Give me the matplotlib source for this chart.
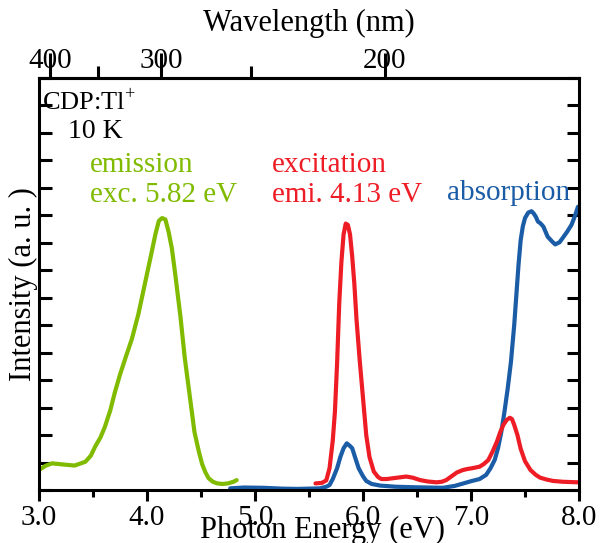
import numpy as np
import matplotlib
matplotlib.use("Agg")
import matplotlib.pyplot as plt

plt.rcParams['font.family'] = ['Liberation Serif', 'DejaVu Serif']
plt.rcParams['mathtext.fontset'] = 'custom'
plt.rcParams['mathtext.rm'] = 'Liberation Serif'

# --- data (photon energy in eV, intensity in a.u.) ---
em_x = [3.00, 3.06, 3.12, 3.22, 3.33, 3.43, 3.48, 3.52, 3.57, 3.61, 3.66, 3.70,
        3.75, 3.80, 3.86, 3.92, 3.98, 4.04, 4.08, 4.11, 4.14, 4.17, 4.20, 4.23,
        4.26, 4.31, 4.35, 4.40, 4.44, 4.48, 4.51, 4.54, 4.57, 4.61, 4.65, 4.70,
        4.75, 4.80, 4.83]
em_y = [0.73, 0.88, 0.97, 0.93, 0.89, 1.03, 1.25, 1.58, 1.92, 2.30, 2.90, 3.52,
        4.20, 4.80, 5.50, 6.40, 7.50, 8.60, 9.35, 9.80, 9.90, 9.85, 9.40, 8.80,
        7.90, 6.30, 4.80, 3.30, 2.10, 1.40, 0.95, 0.65, 0.43, 0.30, 0.24, 0.22,
        0.24, 0.30, 0.36]

exc_x = [5.56, 5.62, 5.66, 5.69, 5.72, 5.74, 5.76, 5.78, 5.80, 5.82, 5.84, 5.86,
         5.88, 5.90, 5.92, 5.94, 5.97, 5.99, 6.01, 6.03, 6.06, 6.10, 6.14, 6.17,
         6.22, 6.28, 6.34, 6.40, 6.46, 6.53, 6.60, 6.68, 6.73, 6.77, 6.82, 6.87,
         6.92, 6.96, 7.02, 7.08, 7.12, 7.16, 7.20, 7.24, 7.27, 7.30, 7.33, 7.36,
         7.38, 7.40, 7.43, 7.46, 7.50, 7.55, 7.60, 7.64, 7.70, 7.76, 7.85, 7.92,
         7.99]
exc_y = [0.24, 0.26, 0.35, 0.79, 1.80, 2.85, 4.60, 6.80, 8.30, 9.30, 9.70, 9.65,
         9.30, 8.50, 7.50, 6.20, 4.70, 3.80, 2.90, 2.00, 1.20, 0.67, 0.47, 0.40,
         0.40, 0.43, 0.46, 0.49, 0.45, 0.36, 0.31, 0.28, 0.30, 0.36, 0.50, 0.64,
         0.72, 0.76, 0.80, 0.85, 0.95, 1.09, 1.40, 1.76, 2.10, 2.37, 2.55, 2.63,
         2.58, 2.37, 2.00, 1.50, 1.05, 0.73, 0.55, 0.45, 0.38, 0.33, 0.30, 0.29,
         0.28]

abs_x = [4.77, 4.90, 5.08, 5.25, 5.39, 5.50, 5.60, 5.66, 5.69, 5.72, 5.76, 5.79,
         5.82, 5.85, 5.88, 5.90, 5.93, 5.96, 6.00, 6.03, 6.08, 6.16, 6.30, 6.47,
         6.60, 6.74, 6.85, 6.93, 7.00, 7.08, 7.14, 7.18, 7.22, 7.25, 7.28, 7.31,
         7.34, 7.37, 7.40, 7.42, 7.44, 7.46, 7.48, 7.50, 7.53, 7.56, 7.58, 7.60,
         7.62, 7.64, 7.67, 7.71, 7.75, 7.78, 7.82, 7.85, 7.89, 7.93, 7.96, 7.99]
abs_y = [0.06, 0.09, 0.08, 0.05, 0.04, 0.05, 0.06, 0.12, 0.18, 0.40, 0.79, 1.20,
         1.52, 1.70, 1.60, 1.52, 1.15, 0.79, 0.50, 0.33, 0.22, 0.16, 0.12, 0.10,
         0.09, 0.08, 0.15, 0.24, 0.32, 0.40, 0.55, 0.79, 1.10, 1.52, 2.10, 2.85,
         3.70, 4.67, 6.00, 7.10, 8.20, 9.10, 9.60, 9.90, 10.10, 10.15, 10.07, 9.95,
         9.77, 9.72, 9.59, 9.22, 9.05, 8.94, 9.02, 9.18, 9.40, 9.65, 9.95, 10.31]

energy_ticks = [3.0, 4.0, 5.0, 6.0, 7.0, 8.0]
wl_major = [400, 300, 200]
wl_minor = [350, 250]

green = '#80bb00'
red = '#ee1c25'
blue = '#1b5ca6'

fig = plt.figure(figsize=(6.0, 5.43), dpi=100)
ax = fig.add_axes([0.065, 0.0976, 0.9, 0.7588])

lw = 3.0
ax.plot(em_x, em_y, color=green, lw=lw, solid_capstyle='round', solid_joinstyle='round')
ax.plot(abs_x, abs_y, color=blue, lw=lw, solid_capstyle='round', solid_joinstyle='round')
ax.plot(exc_x, exc_y, color=red, lw=lw, solid_capstyle='round', solid_joinstyle='round')

ax.set_xlim(3.0, 8.0)
ax.set_ylim(0, 15)
ax.set_xticks(energy_ticks)
ax.set_xticklabels([f'{v:.1f}' for v in energy_ticks])
ax.set_xticks(np.arange(3.5, 8.0, 1.0), minor=True)
ax.set_yticks(np.arange(0, 16, 1))
ax.set_yticklabels([])

for s in ax.spines.values():
    s.set_linewidth(2.2)

ax.tick_params(axis='x', which='major', direction='out', length=8, width=2.2,
               labelsize=21, pad=3, top=False)
ax.tick_params(axis='x', which='minor', direction='out', length=5, width=2.2,
               top=False)
ax.tick_params(axis='y', which='major', direction='in', length=9, width=2.2,
               left=True, right=True)

ax.set_xlabel('Photon Energy (eV)', fontsize=22)
ax.xaxis.set_label_coords(0.525, -0.062)
ax.set_ylabel('Intensity (a. u. )', fontsize=22)
ax.yaxis.set_label_coords(-0.002, 0.5)


def ev2nm(e):
    e = np.asarray(e, dtype=float)
    with np.errstate(divide='ignore', invalid='ignore'):
        return 1239.84 / e


top = ax.secondary_xaxis('top', functions=(ev2nm, ev2nm))
top.set_xticks(wl_major)
top.set_xticklabels([str(v) for v in wl_major])
top.set_xticks(wl_minor, minor=True)
top.tick_params(which='major', direction='out', length=18, width=2.2,
                labelsize=21, pad=-15)
top.tick_params(which='minor', direction='out', length=9, width=2.2)
top.spines['top'].set_linewidth(2.2)
top.set_xlabel('Wavelength (nm)', fontsize=22, labelpad=12)

tr = ax.transAxes
ax.text(0.006, 0.942, r'CDP:Tl$^{+}$', transform=tr, fontsize=19, va='center')
ax.text(0.054, 0.871, '10 K', transform=tr, fontsize=20, va='center')
ax.text(0.094, 0.789, 'emission', transform=tr, fontsize=21, va='center', color=green)
ax.text(0.094, 0.716, 'exc. 5.82 eV', transform=tr, fontsize=21, va='center', color=green)
ax.text(0.431, 0.789, 'excitation', transform=tr, fontsize=21, va='center', color=red)
ax.text(0.431, 0.716, 'emi. 4.13 eV', transform=tr, fontsize=21, va='center', color=red)
ax.text(0.756, 0.721, 'absorption', transform=tr, fontsize=21, va='center', color=blue)

fig.savefig('out.png', dpi=100)
